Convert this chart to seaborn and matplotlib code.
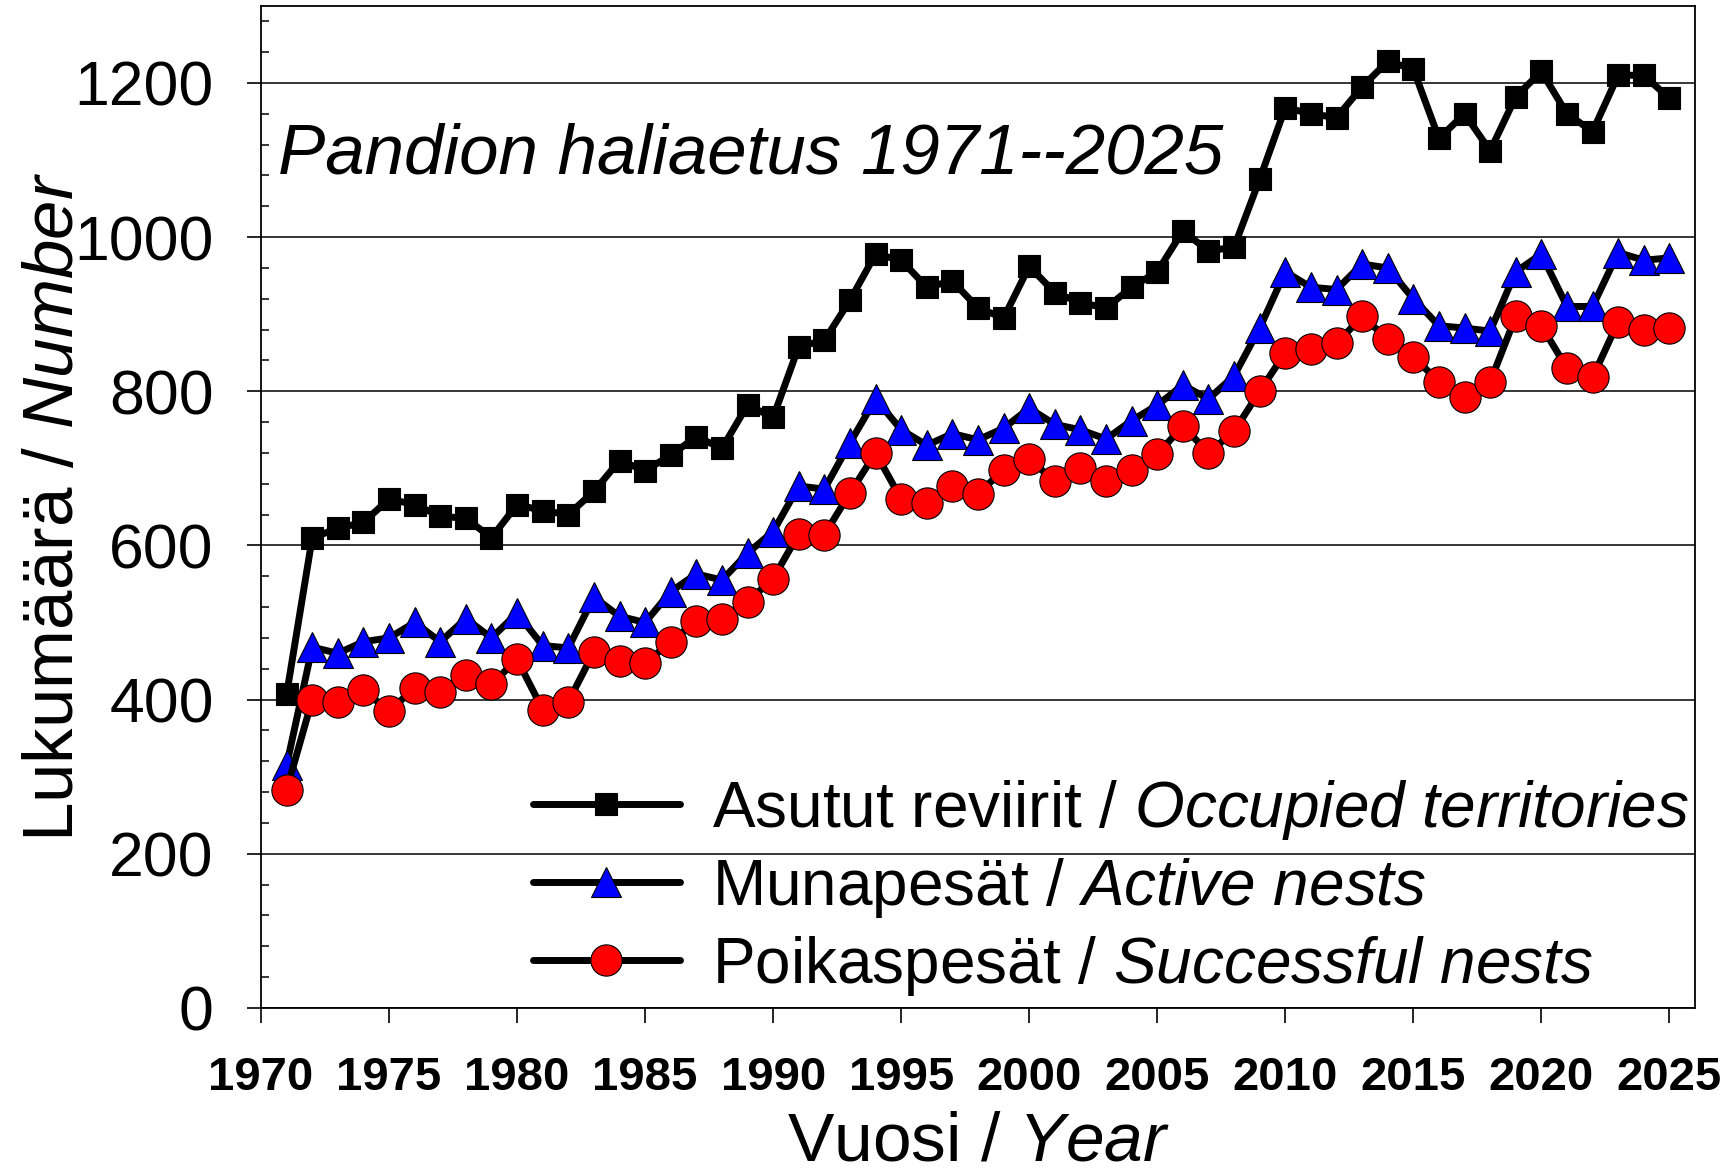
import matplotlib
matplotlib.use("Agg")
import matplotlib.pyplot as plt
import pandas as pd
import seaborn as sns
from matplotlib.ticker import MultipleLocator

years = list(range(1971, 2026))

# Asutut reviirit / Occupied territories
territories = [407, 610, 622, 630, 660, 653, 638, 635, 610, 653,
               645, 640, 670, 710, 697, 717, 741, 726, 782, 766,
               858, 866, 918, 978, 970, 935, 943, 908, 895, 962,
               928, 915, 908, 935, 955, 1008, 982, 987, 1075, 1168,
               1160, 1155, 1195, 1228, 1218, 1128, 1160, 1112, 1182, 1215,
               1160, 1137, 1210, 1210, 1180]

# Munapesät / Active nests
active = [315, 468, 460, 475, 480, 500, 475, 505, 480, 512,
          470, 467, 533, 508, 500, 540, 563, 555, 590, 618,
          677, 673, 733, 790, 750, 730, 745, 737, 752, 778,
          757, 750, 738, 762, 782, 808, 790, 820, 882, 955,
          935, 932, 965, 960, 920, 885, 882, 878, 955, 978,
          910, 910, 980, 970, 973]

# Poikaspesät / Successful nests
successful = [283, 400, 397, 412, 385, 415, 410, 432, 420, 452,
              387, 397, 462, 450, 447, 475, 502, 505, 527, 557,
              615, 614, 668, 720, 660, 655, 677, 667, 698, 712,
              683, 700, 683, 698, 718, 755, 720, 748, 800, 850,
              855, 862, 897, 868, 845, 812, 792, 812, 897, 885,
              830, 818, 890, 880, 882]

labels = [r"Asutut reviirit / $\mathit{Occupied\ territories}$",
          r"Munapesät / $\mathit{Active\ nests}$",
          r"Poikaspesät / $\mathit{Successful\ nests}$"]

sns.set_style("ticks")
plt.rcParams["font.family"] = ["Liberation Sans", "DejaVu Sans"]
plt.rcParams["mathtext.fontset"] = "custom"
plt.rcParams["mathtext.rm"] = "Liberation Sans"
plt.rcParams["mathtext.it"] = "Liberation Sans:italic"
plt.rcParams["axes.linewidth"] = 1.3
plt.rcParams["text.color"] = "black"
plt.rcParams["axes.labelcolor"] = "black"
plt.rcParams["xtick.color"] = "black"
plt.rcParams["ytick.color"] = "black"
plt.rcParams["axes.edgecolor"] = "black"

df = pd.DataFrame({"year": years, "terr": territories,
                   "active": active, "succ": successful})

fig = plt.figure(figsize=(17.31, 11.76), dpi=100)
ax = fig.add_axes([0.1508, 0.143, 0.8284, 0.852])

sns.lineplot(data=df, x="year", y="terr", ax=ax, color="black", linewidth=5,
             marker="s", markersize=16.5, markerfacecolor="black",
             markeredgecolor="black", markeredgewidth=0.8, label=labels[0], zorder=3)
sns.lineplot(data=df, x="year", y="active", ax=ax, color="black", linewidth=5,
             marker="^", markersize=21, markerfacecolor="#0000ff",
             markeredgecolor="black", markeredgewidth=0.8, label=labels[1], zorder=3)
sns.lineplot(data=df, x="year", y="succ", ax=ax, color="black", linewidth=5,
             marker="o", markersize=22.5, markerfacecolor="#ff0000",
             markeredgecolor="black", markeredgewidth=0.8, label=labels[2], zorder=3)

ax.set_xlim(1970, 2026)
ax.set_ylim(0, 1300)
ax.set_xticks(range(1970, 2026, 5))
ax.set_yticks(range(0, 1201, 200))
ax.yaxis.set_minor_locator(MultipleLocator(40))
ax.yaxis.grid(True, which="major", color="black", linewidth=1.1)
ax.set_axisbelow(True)

ax.tick_params(axis="y", which="major", direction="out", length=10, width=1.2,
               labelsize=45, pad=24)
ax.tick_params(axis="y", which="minor", direction="in", length=6, width=1.1)
ax.tick_params(axis="x", which="major", direction="out", length=11, width=1.2,
               labelsize=34, pad=24)
for lab in ax.get_xticklabels():
    lab.set_fontweight("bold")

for s in ax.spines.values():
    s.set_visible(True)

ax.set_xlabel(r"Vuosi / $\mathit{Year}$", fontsize=50)
ax.set_ylabel(r"Lukumäärä / $\mathit{Number}$", fontsize=51)
ax.xaxis.set_label_coords(0.5, -0.102)
ax.yaxis.set_label_coords(-0.121, 0.5)

ax.text(0.012, 0.833, "Pandion haliaetus 1971--2025", transform=ax.transAxes,
        fontsize=51, style="italic", va="baseline", ha="left")

ax.legend(loc="lower right", bbox_to_anchor=(1.009, -0.009), frameon=False,
          fontsize=46, handlelength=2.3, handletextpad=0.5, labelspacing=0.22,
          borderpad=0.2, borderaxespad=0.1)

fig.savefig("out.png", dpi=100)
